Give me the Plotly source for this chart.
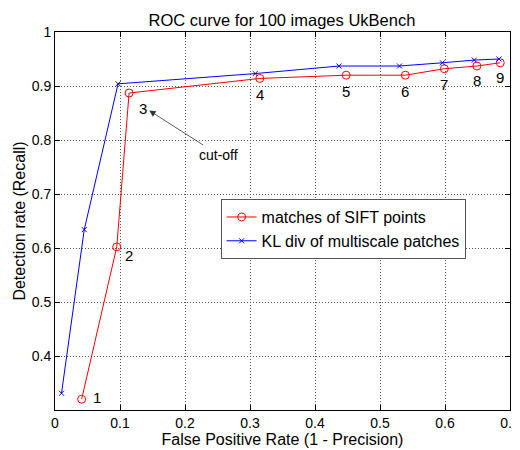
import plotly.graph_objects as go

# data
sift_fpr = [0.041, 0.095, 0.114, 0.315, 0.448, 0.539, 0.599, 0.649, 0.685]
sift_rec = [0.320, 0.602, 0.887, 0.914, 0.920, 0.920, 0.932, 0.937, 0.943]
kl_fpr = [0.010, 0.045, 0.097, 0.308, 0.437, 0.530, 0.596, 0.645, 0.683]
kl_rec = [0.331, 0.634, 0.904, 0.923, 0.937, 0.937, 0.943, 0.948, 0.950]
point_labels = ["1", "2", "3", "4", "5", "6", "7", "8", "9"]
x_ticks = [0, 0.1, 0.2, 0.3, 0.4, 0.5, 0.6, 0.7]
y_ticks = [0.4, 0.5, 0.6, 0.7, 0.8, 0.9, 1]

# style: pixel offsets of the number labels from the red points
label_dx = [15, 12, 14, 0, 0, 0, 0, 0, 0]
label_dy = [2, -9, -15, -16, -16, -16, -16, -14, -15]

FONT = "Liberation Sans, Arial, sans-serif"

fig = go.Figure()
fig.add_trace(go.Scatter(
    x=sift_fpr, y=sift_rec, mode="lines+markers",
    name="matches of SIFT points",
    line=dict(color="#ff0000", width=1),
    marker=dict(symbol="circle-open", size=8, color="#ff0000", line=dict(width=1)),
))
fig.add_trace(go.Scatter(
    x=kl_fpr, y=kl_rec, mode="lines+markers",
    name="KL div of multiscale patches",
    line=dict(color="#0000ff", width=1),
    marker=dict(symbol="x-thin-open", size=5, color="#0000ff", line=dict(width=1, color="#0000ff")),
))

annotations = []
for xv, yv, t, dx, dy in zip(sift_fpr, sift_rec, point_labels, label_dx, label_dy):
    annotations.append(dict(x=xv, y=yv, text=t, showarrow=False, xshift=dx, yshift=dy,
                            xanchor="center", yanchor="middle",
                            font=dict(size=15, color="black", family=FONT)))
annotations.append(dict(x=0.145, y=0.8545, ax=0.251, ay=0.773, axref="x", ayref="y",
                        xref="x", yref="y", text="cut-off", showarrow=True,
                        arrowhead=2, arrowsize=1.6, arrowwidth=0.8, arrowcolor="#333333",
                        font=dict(size=14, color="black", family=FONT)))

axis_common = dict(
    showgrid=True, gridcolor="#555555", griddash="1px,2px", gridwidth=1,
    showline=True, linecolor="black", linewidth=1, mirror="ticks",
    ticks="inside", ticklen=5, tickcolor="black", automargin=False,
    zeroline=False, tickfont=dict(size=14, color="black", family=FONT),
)

# the page body has an 8px margin, so the figure is 8px smaller than the window
fig.update_layout(
    width=512, height=442,
    margin=dict(l=47, r=10, t=24, b=40),
    paper_bgcolor="white", plot_bgcolor="white",
    font=dict(family=FONT, color="black"),
    title=dict(text="ROC curve for 100 images UkBench", x=0.535, xanchor="center",
               y=0.972, yanchor="middle", font=dict(size=16.5, color="black", family=FONT)),
    xaxis=dict(range=[0, 0.7], tickvals=x_ticks, ticktext=[f"{v:g}" for v in x_ticks],
               title=dict(text="False Positive Rate (1 - Precision)", standoff=0,
                          font=dict(size=16, color="black", family=FONT)),
               **axis_common),
    yaxis=dict(range=[0.3, 1], tickvals=y_ticks, ticktext=[f"{v:g}" for v in y_ticks],
               title=dict(text="Detection rate (Recall)", standoff=2,
                          font=dict(size=16, color="black", family=FONT)),
               **axis_common),
    legend=dict(x=0.364, y=0.558, xanchor="left", yanchor="top",
                bgcolor="white", bordercolor="#555555", borderwidth=1,
                font=dict(size=16, color="black", family=FONT),
                itemwidth=30, tracegroupgap=0),
    annotations=annotations,
    showlegend=True,
)

fig.write_html("out.html")
